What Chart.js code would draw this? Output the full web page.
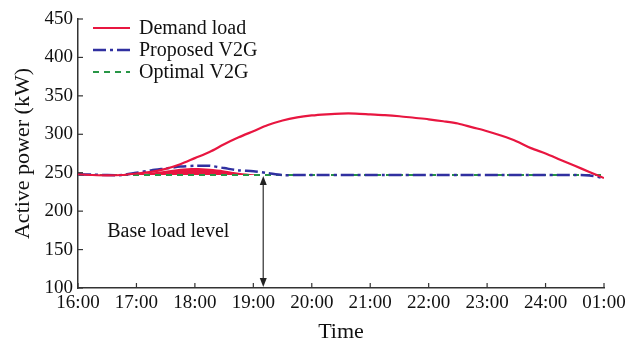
<!DOCTYPE html>
<html>
<head>
<meta charset="utf-8">
<script src="https://cdn.jsdelivr.net/npm/chart.js@4.4.0/dist/chart.umd.min.js"></script>
<style>
html,body{margin:0;padding:0;background:#fff;}
#wrap{width:630px;height:339px;position:relative;}
</style>
</head>
<body>
<div id="wrap"><canvas id="c" width="630" height="339"></canvas></div>
<script>
// ---- data ----
const hours = [16,16.25,16.5,16.75,17,17.25,17.5,17.75,18,18.25,18.5,18.75,19,19.25,19.5,19.75,20,20.25,20.5,20.75,21,21.25,21.5,21.75,22,22.25,22.5,22.75,23,23.25,23.5,23.75,24,24.25,24.5,24.75,25];
const demandLoad = [248,247,246.5,247,249,251,255,261,269,277,287,296,304,312,318,322,324.5,326,327,327,326,325,323.5,321.5,319.5,317,314,309,304,298,291,282,275,267,259,251,243];
const proposedV2G = [248,247.5,247,247,250,253,255.5,258,259,259,256,253,252,249.5,247,247,247,247,247,247,247,247,247,247,247,247,247,247,247,247,247,247,247,247,247,246.5,243];
const optimalV2G = [247,247,247,247,247,247,247,247,247,247,247,247,247,247,247,247,247,247,247,247,247,247,247,247,247,247,247,247,247,247,247,247,247,247,247,247,247];
const fillHours = [16.75,17,17.25,17.5,17.75,18,18.25,18.5,18.75,19,19.1];
const fillTop = [247,248,250,252.5,255,256,255,253,250,248,247];
const baseLevel = 247;
const tickLabels = ['16:00','17:00','18:00','19:00','20:00','21:00','22:00','23:00','24:00','01:00'];
const yTicks = [100,150,200,250,300,350,400,450];
const seriesNames = ['Demand load','Proposed V2G','Optimal V2G'];
const arrowHour = 19.17;
const annotationText = 'Base load level';
const annotationPos = {x:16.5, y:173.5};

const toXY = (xs, ys) => xs.map((x,i)=>({x:x, y:ys[i]}));

const RED = 'rgb(232,22,64)';
const BLUE = 'rgb(48,48,160)';
const GREEN = 'rgb(40,150,70)';
const FONT = "'Liberation Serif', 'Times New Roman', serif";

const overlay = {
  id:'overlay',
  afterDraw(chart){
    const ctx = chart.ctx, xs = chart.scales.x, ys = chart.scales.y, ca = chart.chartArea;
    ctx.save();
    // inward ticks
    ctx.strokeStyle = '#333'; ctx.lineWidth = 1.2;
    for(let h=16; h<=25; h++){
      const px = xs.getPixelForValue(h);
      ctx.beginPath(); ctx.moveTo(px, ca.bottom); ctx.lineTo(px, ca.bottom-5); ctx.stroke();
    }
    yTicks.forEach(v=>{
      const py = ys.getPixelForValue(v);
      ctx.beginPath(); ctx.moveTo(ca.left, py); ctx.lineTo(ca.left+5, py); ctx.stroke();
    });
    // arrow
    const ax = xs.getPixelForValue(arrowHour);
    const y1 = ys.getPixelForValue(baseLevel)+1, y2 = ys.getPixelForValue(100)-1;
    ctx.strokeStyle = '#555'; ctx.fillStyle = '#222'; ctx.lineWidth = 1.5;
    ctx.beginPath(); ctx.moveTo(ax, y1+6); ctx.lineTo(ax, y2-6); ctx.stroke();
    ctx.beginPath(); ctx.moveTo(ax, y1); ctx.lineTo(ax-3.5, y1+9); ctx.lineTo(ax+3.5, y1+9); ctx.closePath(); ctx.fill();
    ctx.beginPath(); ctx.moveTo(ax, y2); ctx.lineTo(ax-3.5, y2-9); ctx.lineTo(ax+3.5, y2-9); ctx.closePath(); ctx.fill();
    // annotation text
    ctx.fillStyle = '#111'; ctx.font = '20px ' + FONT; ctx.textBaseline = 'middle'; ctx.textAlign = 'left';
    ctx.fillText(annotationText, xs.getPixelForValue(annotationPos.x), ys.getPixelForValue(annotationPos.y));
    // legend
    const styles = [
      {c:RED, d:[], w:2.2},
      {c:BLUE, d:[13,4,3,4], w:2.5},
      {c:GREEN, d:[6,5], w:2}
    ];
    const rows = [28,50,72];
    ctx.font = '20px ' + FONT;
    seriesNames.forEach((n,i)=>{
      const y = ca.top + rows[i] - 19;
      ctx.strokeStyle = styles[i].c; ctx.lineWidth = styles[i].w; ctx.setLineDash(styles[i].d);
      ctx.beginPath(); ctx.moveTo(ca.left+15, y); ctx.lineTo(ca.left+52, y); ctx.stroke();
      ctx.setLineDash([]);
      ctx.fillStyle = '#111';
      ctx.fillText(n, ca.left+61, y+1);
    });
    ctx.restore();
  }
};

new Chart(document.getElementById('c'), {
  type:'line',
  data:{
    datasets:[
      {label:'fill', data:toXY(fillHours, fillTop), borderWidth:0, pointRadius:0, backgroundColor:RED, fill:{value:baseLevel}, order:4, tension:0.3},
      {label:seriesNames[2], data:toXY(hours, optimalV2G), borderColor:GREEN, borderWidth:2, borderDash:[6,5], pointRadius:0, fill:false, order:3},
      {label:seriesNames[1], data:toXY(hours, proposedV2G), borderColor:BLUE, borderWidth:2.5, borderDash:[13,4,3,4], pointRadius:0, fill:false, order:2, tension:0.3},
      {label:seriesNames[0], data:toXY(hours, demandLoad), borderColor:RED, borderWidth:2.2, pointRadius:0, fill:false, order:1, tension:0.3}
    ]
  },
  options:{
    responsive:false, animation:false, devicePixelRatio:1,
    layout:{padding:{top:19,right:26,left:0,bottom:0}},
    plugins:{legend:{display:false}, tooltip:{enabled:false}},
    scales:{
      x:{
        type:'linear', min:16, max:25,
        grid:{display:false, drawTicks:false},
        border:{display:true, color:'#333', width:1.5},
        ticks:{stepSize:1, autoSkip:false, maxRotation:0, padding:4, color:'#111', font:{family:FONT, size:19},
          callback:(v)=>tickLabels[Math.round(v)-16]},
        title:{display:true, text:'Time', color:'#111', font:{family:FONT, size:22}, padding:{top:0,bottom:-6}},
        afterFit:(s)=>{s.height = 51;}
      },
      y:{
        min:100, max:450,
        grid:{display:false, drawTicks:false},
        border:{display:true, color:'#333', width:1.5},
        ticks:{stepSize:50, padding:5, color:'#111', font:{family:FONT, size:19}},
        title:{display:true, text:'Active power (kW)', color:'#111', font:{family:FONT, size:22}, padding:{top:10,bottom:0}},
        afterFit:(s)=>{s.width = 78;}
      }
    }
  },
  plugins:[overlay]
});
</script>
</body>
</html>
